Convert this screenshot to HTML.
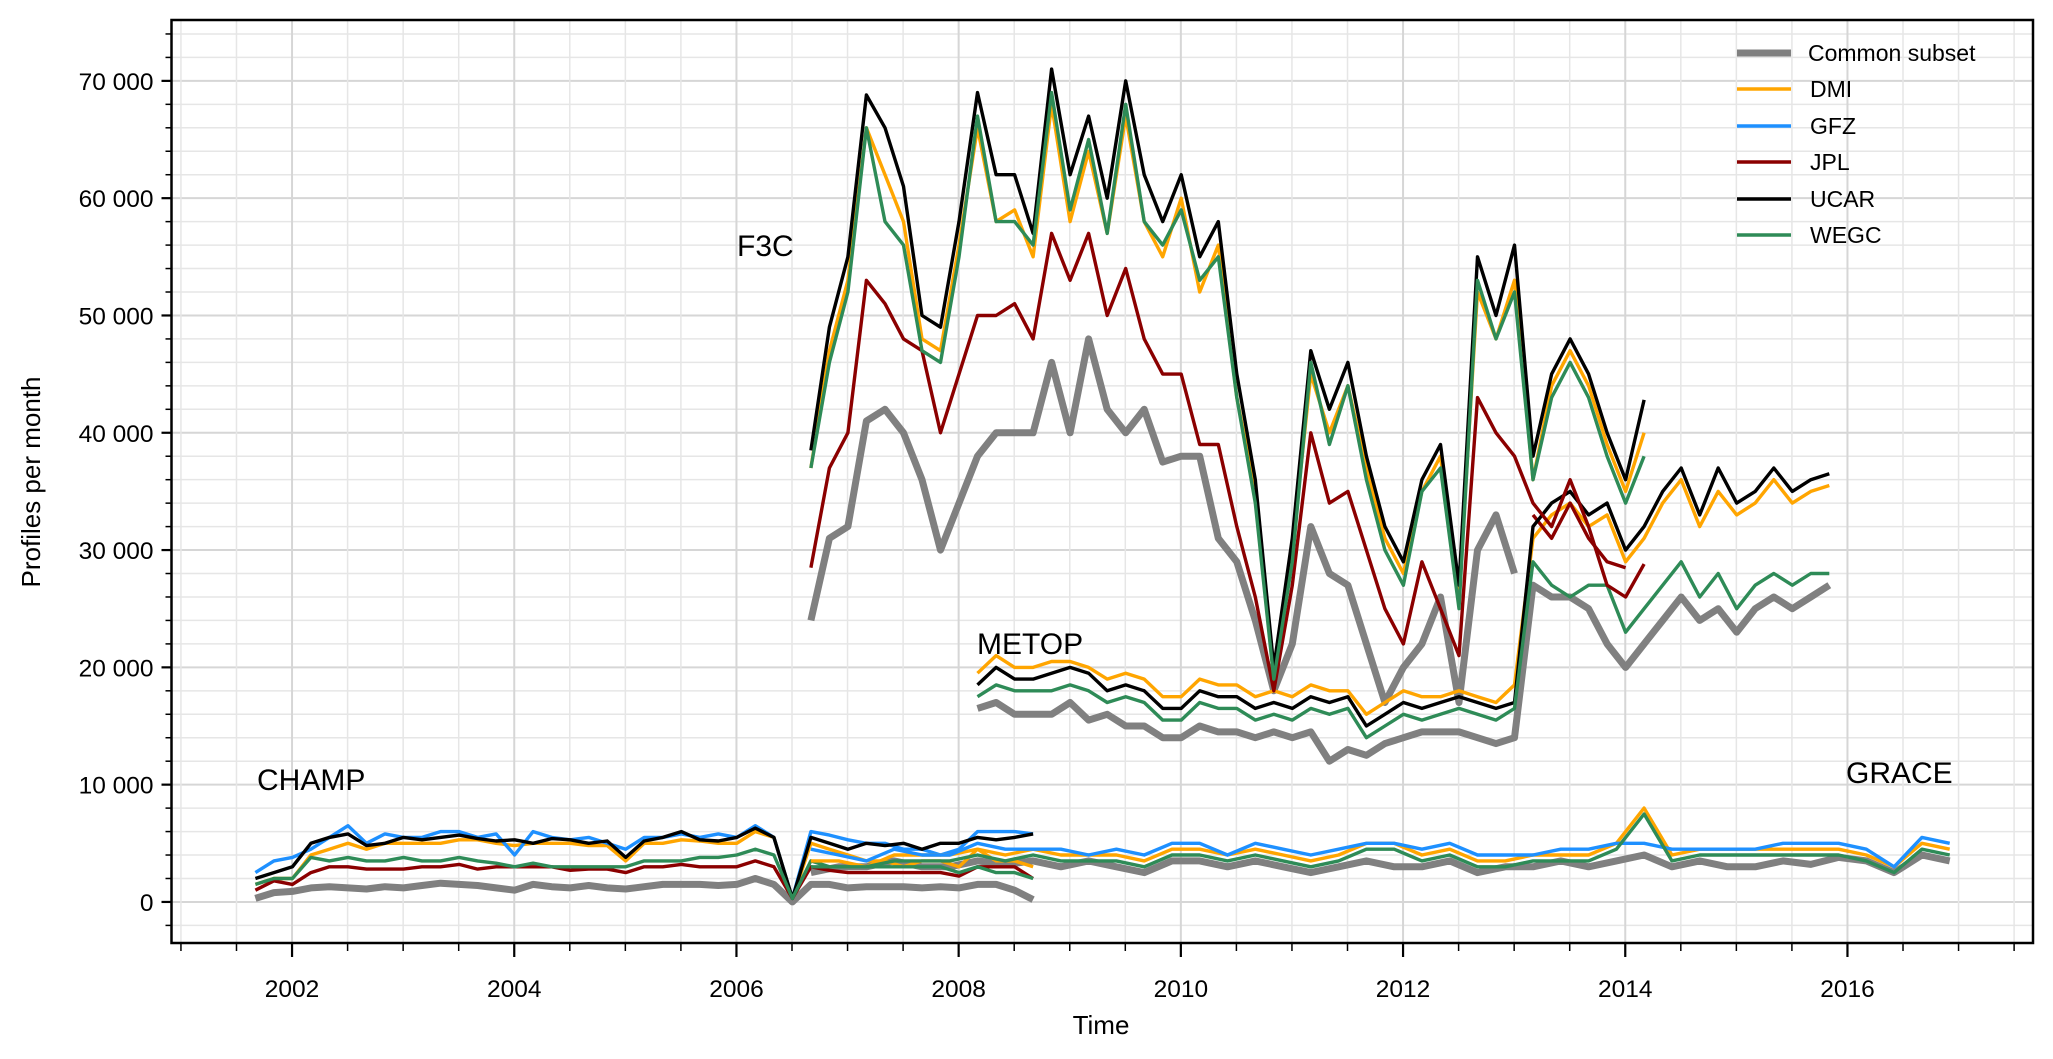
<!DOCTYPE html>
<html><head><meta charset="utf-8"><style>
html,body{margin:0;padding:0;background:#fff;}
svg text{font-family:"Liberation Sans","DejaVu Sans",sans-serif;}
</style></head><body>
<svg id="chart" width="2053" height="1054" viewBox="0 0 2053 1054" xmlns="http://www.w3.org/2000/svg">
<rect width="2053" height="1054" fill="#fff"/>
<g id="grid"></g>
<g id="series"></g>
<g id="axes"></g>
<text x="737" y="256" font-size="30">F3C</text>
<text x="977" y="654" font-size="30">METOP</text>
<text x="257" y="790" font-size="30">CHAMP</text>
<text x="1846" y="783" font-size="30">GRACE</text>
<text x="1101" y="1034" font-size="26" text-anchor="middle">Time</text>
<text transform="translate(40,482) rotate(-90)" font-size="26" text-anchor="middle">Profiles per month</text>
<g id="legend"></g>
</svg>
<script>
// ---- data (values in thousands of profiles) ----
const f3cStart = 2006.67, f3cStep = 1/6;
const f3cUCAR = [38.5,49,55,68.8,66,61,50,49,58,69,62,62,57,71,62,67,60,70,62,58,62,55,58,45,36,20,31,47,42,46,38,32,29,36,39,27,55,50,56,38,45,48,45,40,36,42.8];
const f3cDMI  = [37,47,53,66,62,58,48,47,56,66,58,59,55,68,58,64,57,67,58,55,60,52,56,43,35,19,30,45,40,44,37,31,28,35,38,26,52,48,53,36,44,47,44,39,35,40];
const f3cWEGC = [37,46,52,66,58,56,47,46,55,67,58,58,56,69,59,65,57,68,58,56,59,53,55,43,34,19,29,46,39,44,36,30,27,35,37,25,53,48,52,36,43,46,43,38,34,38];
const f3cJPL  = [28.5,37,40,53,51,48,47,40,45,50,50,51,48,57,53,57,50,54,48,45,45,39,39,32,26,18,27,40,34,35,30,25,22,29,25,21,43,40,38,34,32,36,32,27,26,28.8];
const f3cCommon = [24,31,32,41,42,40,36,30,34,38,40,40,40,46,40,48,42,40,42,37.5,38,38,31,29,24,18,22,32,28,27,22,17,20,22,26,17,30,33,28];

const metopStart = 2008.17, metopStep = 1/6;
const metopUCAR = [18.5,20,19,19,19.5,20,19.5,18,18.5,18,16.5,16.5,18,17.5,17.5,16.5,17,16.5,17.5,17,17.5,15,16,17,16.5,17,17.5,17,16.5,17,32,34,35,33,34,30,32,35,37,33,37,34,35,37,35,36,36.5];
const metopDMI  = [19.5,21,20,20,20.5,20.5,20,19,19.5,19,17.5,17.5,19,18.5,18.5,17.5,18,17.5,18.5,18,18,16,17,18,17.5,17.5,18,17.5,17,18.5,31,33,34,32,33,29,31,34,36,32,35,33,34,36,34,35,35.5];
const metopWEGC = [17.5,18.5,18,18,18,18.5,18,17,17.5,17,15.5,15.5,17,16.5,16.5,15.5,16,15.5,16.5,16,16.5,14,15,16,15.5,16,16.5,16,15.5,16.5,29,27,26,27,27,23,25,27,29,26,28,25,27,28,27,28,28];
const metopCommon = [16.5,17,16,16,16,17,15.5,16,15,15,14,14,15,14.5,14.5,14,14.5,14,14.5,12,13,12.5,13.5,14,14.5,14.5,14.5,14,13.5,14,27,26,26,25,22,20,22,24,26,24,25,23,25,26,25,26,27];
const metopJPLStart = 2013.17;
const metopJPL = [33,31,34,31,29,28.5];

const champStart = 2001.67, champStep = 1/6;
const champUCAR = [2,2.5,3,5,5.5,5.8,4.8,5,5.5,5.3,5.5,5.7,5.4,5.2,5.3,5,5.4,5.3,5,5.2,3.8,5.2,5.5,6,5.3,5.2,5.5,6.3,5.5,0.3,5.5,5,4.5,5,4.8,5,4.5,5,5,5.5,5.3,5.5,5.8];
const champGFZ  = [2.5,3.5,3.8,4.5,5.5,6.5,5,5.8,5.5,5.5,6,6,5.5,5.8,4,6,5.5,5.3,5.5,5,4.5,5.5,5.5,5.8,5.5,5.8,5.5,6.5,5.5,0.3,6,5.7,5.3,5,5,4.5,4.5,4,4.5,6,6,6,5.8];
const champDMI  = [1.5,2,2,4,4.5,5,4.5,5,5,5,5,5.3,5.3,5,4.8,5,5,5,4.8,4.8,3.5,5,5,5.3,5.2,5,5,6,5.5,0.3,5,4.5,4,3.5,3.5,3,3.5,3.5,3,4.5,3.5,3.5,3];
const champWEGC = [1.5,2,2,3.8,3.5,3.8,3.5,3.5,3.8,3.5,3.5,3.8,3.5,3.3,3,3.3,3,3,3,3,3,3.5,3.5,3.5,3.8,3.8,4,4.5,4,0.3,3.5,3,3,3,3,3,3,3,2.5,3,2.5,2.5,2];
const champJPL  = [1,1.8,1.5,2.5,3,3,2.8,2.8,2.8,3,3,3.2,2.8,3,3,3,3,2.7,2.8,2.8,2.5,3,3,3.2,3,3,3,3.5,3,0.3,3,2.7,2.5,2.5,2.5,2.5,2.5,2.5,2.2,3,3,3,2];
const champCommon = [0.3,0.8,0.9,1.2,1.3,1.2,1.1,1.3,1.2,1.4,1.6,1.5,1.4,1.2,1,1.5,1.3,1.2,1.4,1.2,1.1,1.3,1.5,1.5,1.5,1.4,1.5,2,1.5,0,1.5,1.5,1.2,1.3,1.3,1.3,1.2,1.3,1.2,1.5,1.5,1,0.2];

const graceStart = 2006.67, graceStep = 0.25;
const graceGFZ  = [4.5,4,3.5,4.5,4,4,5,4.5,4.5,4.5,4,4.5,4,5,5,4,5,4.5,4,4.5,5,5,4.5,5,4,4,4,4.5,4.5,5,5,4.5,4.5,4.5,4.5,5,5,5,4.5,3,5.5,5];
const graceDMI  = [3.5,3.5,3,4,4,4,4.5,4,4.5,4,4,4,3.5,4.5,4.5,4,4.5,4,3.5,4,5,5,4,4.5,3.5,3.5,4,4,4,5,8,4,4.5,4.5,4.5,4.5,4.5,4.5,4,3,5,4.5];
const graceWEGC = [3,3,3,3.5,3.5,3.5,4,3.5,4,3.5,3.5,3.5,3,4,4,3.5,4,3.5,3,3.5,4.5,4.5,3.5,4,3,3,3.5,3.5,3.5,4.5,7.5,3.5,4,4,4,4,4,4,3.5,2.5,4.5,4];
const graceCommon = [2.5,3,3,3.5,3,3,3.5,3.2,3.5,3,3.5,3,2.5,3.5,3.5,3,3.5,3,2.5,3,3.5,3,3,3.5,2.5,3,3,3.5,3,3.5,4,3,3.5,3,3,3.5,3.2,3.8,3.5,2.5,4,3.5];

const yTicks = [0,10000,20000,30000,40000,50000,60000,70000];
const yTickLabels = ["0","10 000","20 000","30 000","40 000","50 000","60 000","70 000"];
const xTicks = [2002,2004,2006,2008,2010,2012,2014,2016];
const legendNames = ["Common subset","DMI","GFZ","JPL","UCAR","WEGC"];
const legendColors = ["#808080","#ffa500","#1e90ff","#8b0000","#000000","#2e8b57"];

// ---- scales ----
const L=171.5,R=2033,T=20,B=943;
const X0=2000.915,X1=2017.67,Y0=-3500,Y1=75190;
function sx(t){return L+(t-X0)/(X1-X0)*(R-L);}
function sy(v){return B-(v-Y0)/(Y1-Y0)*(B-T);}
const NS="http://www.w3.org/2000/svg";
function mk(tag,attrs,parent){const e=document.createElementNS(NS,tag);for(const k in attrs)e.setAttribute(k,attrs[k]);parent.appendChild(e);return e;}

const grid=document.getElementById('grid');
for(let v=-2000;v<=74000;v+=2000){
  const major=v%10000===0;
  const ln=mk('line',{x1:L,x2:R,y1:sy(v),y2:sy(v),stroke:major?'#d6d6d6':'#e6e6e6','stroke-width':major?2:1.5},grid);
  
  
}
for(let t=2001;t<=2017.5;t+=0.5){
  const major=(t%2===0);
  const ln=mk('line',{x1:sx(t),x2:sx(t),y1:T,y2:B,stroke:major?'#d6d6d6':'#e6e6e6','stroke-width':major?2:1.5},grid);
  
  
}

const ser=document.getElementById('series');
function drawLine(start,step,vals,color,w,name){
  const pts=vals.map((v,i)=>sx(start+i*step).toFixed(1)+','+sy(v*1000).toFixed(1)).join(' ');
  const p=mk('polyline',{points:pts,fill:'none',stroke:color,'stroke-width':w,'stroke-linejoin':'round'},ser);
  
  
}
const C=legendColors;
const GW=7, SW=3.4;
drawLine(champStart,champStep,champCommon,C[0],GW,'champ-common-line');
drawLine(graceStart,graceStep,graceCommon,C[0],GW,'grace-common-line');
drawLine(metopStart,metopStep,metopCommon,C[0],GW,'metop-common-line');
drawLine(f3cStart,f3cStep,f3cCommon,C[0],GW,'f3c-common-line');
drawLine(champStart,champStep,champDMI,C[1],SW,'champ-dmi-line');
drawLine(champStart,champStep,champGFZ,C[2],SW,'champ-gfz-line');
drawLine(champStart,champStep,champJPL,C[3],SW,'champ-jpl-line');
drawLine(champStart,champStep,champUCAR,C[4],SW,'champ-ucar-line');
drawLine(champStart,champStep,champWEGC,C[5],SW,'champ-wegc-line');
drawLine(graceStart,graceStep,graceDMI,C[1],SW,'grace-dmi-line');
drawLine(graceStart,graceStep,graceGFZ,C[2],SW,'grace-gfz-line');
drawLine(graceStart,graceStep,graceWEGC,C[5],SW,'grace-wegc-line');
drawLine(metopStart,metopStep,metopDMI,C[1],SW,'metop-dmi-line');
drawLine(metopJPLStart,metopStep,metopJPL,C[3],SW,'metop-jpl-line');
drawLine(metopStart,metopStep,metopUCAR,C[4],SW,'metop-ucar-line');
drawLine(metopStart,metopStep,metopWEGC,C[5],SW,'metop-wegc-line');
drawLine(f3cStart,f3cStep,f3cDMI,C[1],SW,'f3c-dmi-line');
drawLine(f3cStart,f3cStep,f3cJPL,C[3],SW,'f3c-jpl-line');
drawLine(f3cStart,f3cStep,f3cUCAR,C[4],SW,'f3c-ucar-line');
drawLine(f3cStart,f3cStep,f3cWEGC,C[5],SW,'f3c-wegc-line');

const ax=document.getElementById('axes');
const frame=mk('rect',{x:L,y:T,width:R-L,height:B-T,fill:'none',stroke:'#000','stroke-width':2.5},ax);


for(let v=-2000;v<=74000;v+=2000){
  const major=v%10000===0;
  mk('line',{x1:L-(major?10:6),x2:L,y1:sy(v),y2:sy(v),stroke:'#000','stroke-width':major?2.2:1.5},ax);
}
yTicks.forEach((v,i)=>{
  const t=mk('text',{x:L-18,y:sy(v)+9,'font-size':24.5,'text-anchor':'end'},ax);
  t.textContent=yTickLabels[i];
  
  
});
for(let t=2001;t<=2017.5;t+=0.5){
  const major=(t%2===0);
  mk('line',{x1:sx(t),x2:sx(t),y1:B,y2:B+(major?14:8),stroke:'#000','stroke-width':major?2.2:1.5},ax);
}
xTicks.forEach(t=>{
  const tx=mk('text',{x:sx(t),y:B+54,'font-size':24.5,'text-anchor':'middle'},ax);
  tx.textContent=String(t);
  
  
});

const lg=document.getElementById('legend');
const lys=[53,89,126,162,199,235];
legendNames.forEach((n,i)=>{
  const g=mk('g',{},lg);
  
  
  mk('line',{x1:1737,x2:1791,y1:lys[i],y2:lys[i],stroke:legendColors[i],'stroke-width':i===0?7:3.4},g);
  const t=mk('text',{x:i===0?1808:1810,y:lys[i]+8,'font-size':23},g);
  t.textContent=n;
});
</script>
</body></html>
